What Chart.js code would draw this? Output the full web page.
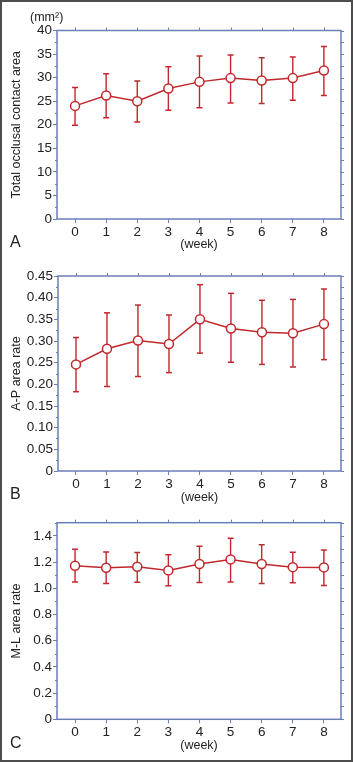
<html>
<head>
<script src="https://cdn.jsdelivr.net/npm/chart.js@4/dist/chart.umd.min.js"></script>
<style>
body { margin: 0; background: #fff; }
#wrap { position: relative; width: 353px; height: 762px; overflow: hidden; }
#wrap canvas { position: absolute; left: 0; }
#frame { position: absolute; left: 0; top: 0; width: 353px; height: 762px; box-sizing: border-box; border: 2px solid #4d4d4d; pointer-events: none; }
</style>
</head>
<body>
<div id="wrap">
  <canvas id="chartA" width="353" height="252" style="top:0px"></canvas>
  <canvas id="chartB" width="353" height="253" style="top:252px"></canvas>
  <canvas id="chartC" width="353" height="257" style="top:505px"></canvas>
  <div id="frame"></div>
</div>
<script>
// data (mean, upper and lower end of the error bar)
const weeks = [0, 1, 2, 3, 4, 5, 6, 7, 8];
const weekLabels = ['0', '1', '2', '3', '4', '5', '6', '7', '8'];

const meanA = [24.0, 26.2, 25.0, 27.7, 29.1, 29.9, 29.4, 29.9, 31.5];
const upA   = [27.9, 30.8, 29.3, 32.3, 34.6, 34.8, 34.2, 34.4, 36.6];
const loA   = [19.9, 21.5, 20.6, 23.1, 23.6, 24.6, 24.5, 25.2, 26.2];

const meanB = [0.246, 0.282, 0.301, 0.293, 0.350, 0.329, 0.320, 0.318, 0.339];
const upB   = [0.308, 0.365, 0.383, 0.360, 0.430, 0.410, 0.394, 0.396, 0.420];
const loB   = [0.183, 0.195, 0.218, 0.227, 0.272, 0.251, 0.246, 0.240, 0.257];

const meanC = [1.171, 1.156, 1.164, 1.136, 1.185, 1.220, 1.185, 1.161, 1.159];
const upC   = [1.297, 1.277, 1.272, 1.256, 1.320, 1.382, 1.331, 1.274, 1.292];
const loC   = [1.048, 1.036, 1.046, 1.018, 1.043, 1.048, 1.036, 1.041, 1.020];

const yTicksA  = [0, 5, 10, 15, 20, 25, 30, 35, 40];
const yLabelsA = ['0', '5', '10', '15', '20', '25', '30', '35', '40'];
const yTicksB  = [0, 0.05, 0.10, 0.15, 0.20, 0.25, 0.30, 0.35, 0.40, 0.45];
const yLabelsB = ['0', '0.05', '0.10', '0.15', '0.20', '0.25', '0.30', '0.35', '0.40', '0.45'];
const yTicksC  = [0, 0.2, 0.4, 0.6, 0.8, 1.0, 1.2, 1.4];
const yLabelsC = ['0', '0.2', '0.4', '0.6', '0.8', '1.0', '1.2', '1.4'];

const RED = '#c0282c';
const FRAME = '#6a7fb8';
const TEXT = '#222';
const FONT = "'Liberation Sans', Arial, sans-serif";

// frame, top/right ticks, minor ticks, panel letter, unit
const framePlugin = {
  id: 'frame',
  beforeDatasetsDraw(chart, args, opts) {
    const { ctx, chartArea: a, scales: { x, y } } = chart;
    ctx.save();
    ctx.strokeStyle = FRAME;
    ctx.lineWidth = 1.5;
    ctx.strokeRect(a.left, a.top, a.right - a.left, a.bottom - a.top);
    ctx.lineWidth = 1;
    ctx.beginPath();
    x.ticks.forEach(t => {
      const px = Math.round(x.getPixelForValue(t.value)) + 0.5;
      ctx.moveTo(px, a.top);
      ctx.lineTo(px, a.top - 3);
    });
    const n = Math.round(y.max / opts.minor);
    for (let k = 0; k <= n; k++) {
      const py = Math.round(y.getPixelForValue(k * opts.minor)) + 0.5;
      ctx.moveTo(a.right, py);
      ctx.lineTo(a.right + 3, py);
      if (k % 2 === 1) {
        ctx.moveTo(a.left, py);
        ctx.lineTo(a.left - 2, py);
      }
    }
    ctx.stroke();
    ctx.fillStyle = TEXT;
    ctx.textBaseline = 'middle';
    ctx.font = '16px ' + FONT;
    ctx.fillText(opts.letter, 10, opts.letterY);
    if (opts.unit) {
      ctx.font = '12.5px ' + FONT;
      ctx.fillText(opts.unit, 30, 18);
    }
    ctx.restore();
  }
};

function errorPoints(lo, up) {
  const pts = [];
  weeks.forEach((w, i) => {
    pts.push({ x: w, y: lo[i] }, { x: w, y: up[i] }, { x: w, y: null });
  });
  return pts;
}

function makeChart(id, p) {
  const cv = document.getElementById(id);
  return new Chart(cv, {
    type: 'line',
    data: {
      datasets: [{
        data: weeks.map((w, i) => ({ x: w, y: p.mean[i] })),
        borderColor: RED,
        borderWidth: 1.5,
        pointRadius: 4.5,
        pointBorderWidth: 1.5,
        pointBackgroundColor: '#fff',
        pointBorderColor: RED
      }, {
        data: errorPoints(p.lo, p.up),
        borderColor: RED,
        borderWidth: 1.4,
        pointStyle: 'line',
        pointRadius: 3,
        pointBorderWidth: 1.5,
        pointBorderColor: RED,
        spanGaps: false
      }]
    },
    options: {
      responsive: false,
      animation: false,
      events: [],
      layout: { padding: { top: p.top, right: 353 - p.right, left: 0, bottom: 0 } },
      plugins: {
        legend: { display: false },
        tooltip: { enabled: false },
        frame: { letter: p.letter, letterY: p.letterY, unit: p.unit, minor: p.minor }
      },
      scales: {
        x: {
          type: 'linear',
          min: -0.58,
          max: 8.55,
          afterBuildTicks: s => { s.ticks = weeks.map(v => ({ value: v })); },
          afterFit: s => { s.height = cv.height - p.bottom; },
          ticks: { callback: (v, i) => weekLabels[i], color: TEXT, font: { family: FONT, size: 13.5 }, padding: 1, maxRotation: 0 },
          grid: { drawOnChartArea: false, tickLength: 4, color: FRAME },
          border: { display: false },
          title: { display: true, text: '(week)', color: TEXT, font: { family: FONT, size: 12.5 }, padding: { top: 0, bottom: p.weekPad } }
        },
        y: {
          min: 0,
          max: p.max,
          afterBuildTicks: s => { s.ticks = p.ticks.map(v => ({ value: v })); },
          afterFit: s => { s.width = p.left; },
          ticks: { callback: (v, i) => p.labels[i], color: TEXT, font: { family: FONT, size: 13.5 }, padding: 1 },
          grid: { drawOnChartArea: false, tickLength: 4, color: FRAME },
          border: { display: false },
          title: { display: true, text: p.title, color: TEXT, font: { family: FONT, size: 12.5 }, padding: { top: 9, bottom: 0 } }
        }
      }
    },
    plugins: [framePlugin]
  });
}

makeChart('chartA', {
  mean: meanA, up: upA, lo: loA, ticks: yTicksA, labels: yLabelsA, max: 40, minor: 2.5,
  title: 'Total occlusal contact area', unit: '(mm²)', letter: 'A', letterY: 243,
  top: 30.5, bottom: 219, left: 57, right: 341, weekPad: 0
});
makeChart('chartB', {
  mean: meanB, up: upB, lo: loB, ticks: yTicksB, labels: yLabelsB, max: 0.45, minor: 0.025,
  title: 'A-P area rate', letter: 'B', letterY: 243,
  top: 24, bottom: 219, left: 58, right: 341, weekPad: 0
});
makeChart('chartC', {
  mean: meanC, up: upC, lo: loC, ticks: yTicksC, labels: yLabelsC, max: 1.5, minor: 0.1,
  title: 'M-L area rate', letter: 'C', letterY: 239,
  top: 17.7, bottom: 214.3, left: 57, right: 341, weekPad: 9
});
</script>
</body>
</html>
